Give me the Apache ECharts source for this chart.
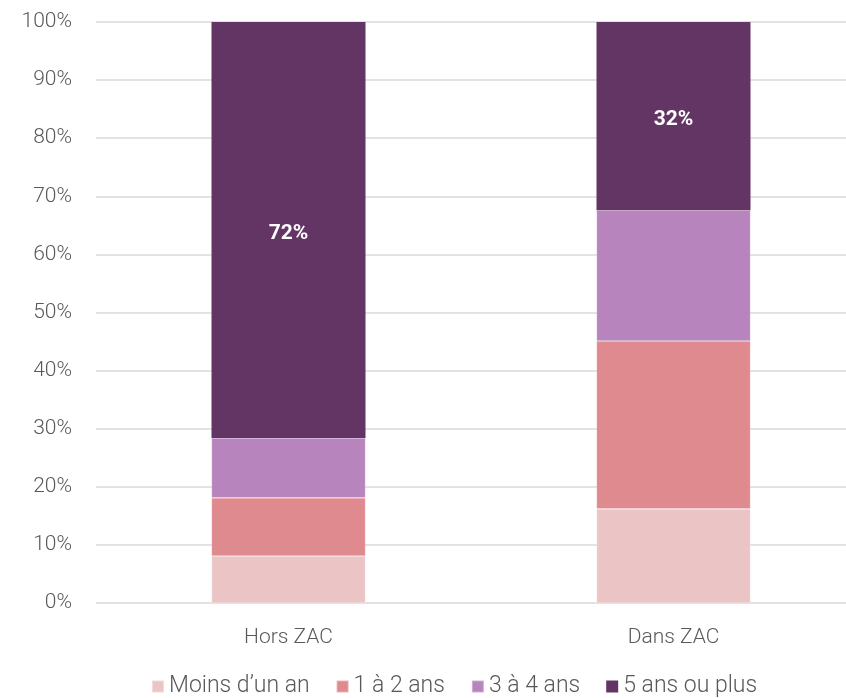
<!DOCTYPE html>
<html><head><meta charset="utf-8">
<script src="https://cdn.jsdelivr.net/npm/echarts@6/dist/echarts.min.js"></script>
<style>html,body{margin:0;padding:0;background:#fff}#c{width:846px;height:698px}</style>
</head><body><div id="c"></div>
<script>
const categories = ['Hors ZAC', 'Dans ZAC'];
const seriesNames = ['Moins d\u2019un an', '1 à 2 ans', '3 à 4 ans', '5 ans ou plus'];
const moinsUnAn = [8.1, 16.2];
const unADeux = [10.0, 28.9];
const troisAQuatre = [10.3, 22.5];
const cinqPlus = [71.6, 32.4];
const cinqPlusLabels = ['72%', '32%'];
const colors = ['#EBC5C6', '#DF8A8E', '#B784BD', '#633564'];

const font = 'Roboto, "Open Sans", sans-serif';
const values = [moinsUnAn, unADeux, troisAQuatre, cinqPlus];
const series = values.map((v, i) => ({
  name: seriesNames[i],
  type: 'bar',
  stack: 'total',
  barWidth: '40%',
  data: v,
  itemStyle: { color: colors[i], borderColor: 'rgba(255,255,255,0.35)', borderWidth: i === 3 ? 0 : 0.6 },
  label: i === 3 ? {
    show: true, position: 'inside', offset: [0, 4], color: '#fff', fontWeight: 'bold',
    fontSize: 21, fontFamily: font,
    formatter: p => cinqPlusLabels[p.dataIndex]
  } : { show: false },
  emphasis: { disabled: true }
}));

const chart = echarts.init(document.getElementById('c'), null, { renderer: 'canvas' });
chart.setOption({
  animation: false,
  grid: { left: 96, width: 770, top: 22, bottom: 95, containLabel: false, outerBoundsMode: 'none' },
  xAxis: {
    type: 'category', data: categories,
    axisLine: { show: false }, axisTick: { show: false },
    axisLabel: { color: '#595959', fontSize: 21, fontWeight: 300, fontFamily: font, margin: 24 }
  },
  yAxis: {
    type: 'value', min: 0, max: 100, interval: 10,
    axisLine: { show: false }, axisTick: { show: false },
    axisLabel: { color: '#595959', fontSize: 21, fontWeight: 300, fontFamily: font, margin: 24, formatter: '{value}%' },
    splitLine: { lineStyle: { color: '#D9D9D9', width: 1.5 } }
  },
  legend: {
    bottom: -5, left: 146, itemWidth: 12, itemHeight: 12, itemGap: 26,
    icon: 'rect',
    textStyle: { color: '#595959', fontSize: 23, fontWeight: 300, fontFamily: font, padding: [0, 0, 0, 0] },
    data: seriesNames
  },
  series
});
</script></body></html>
